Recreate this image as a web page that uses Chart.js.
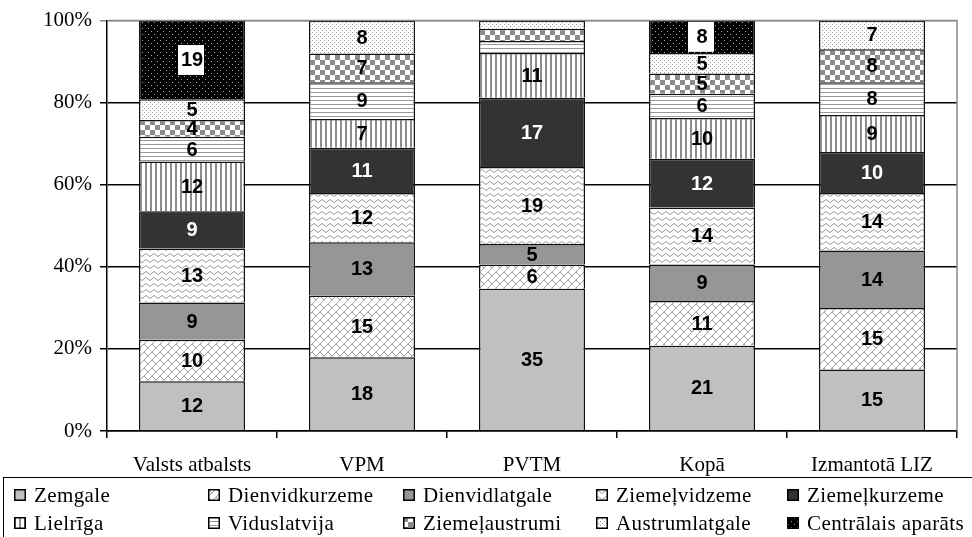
<!DOCTYPE html>
<html>
<head>
<meta charset="utf-8">
<script src="https://cdn.jsdelivr.net/npm/chart.js@4.4.1/dist/chart.umd.min.js"></script>
<style>
    body { margin: 0; background: #fff; overflow: hidden; }
    #wrap { position: relative; width: 972px; height: 537px; overflow: hidden; }
    #legend { position: absolute; left: 3px; top: 477px; width: 1000px; height: 80px; border: 1.5px solid #000; box-sizing: border-box; }
    .item { position: absolute; white-space: nowrap; font: 21px "Liberation Serif", "Times New Roman", serif; line-height: 22px; letter-spacing: 0.4px; }
    .item canvas { position: absolute; left: 0; top: 5px; }
    .item span { position: absolute; left: 20px; top: 0; }
</style>
</head>
<body>
<div id="wrap">
    <canvas id="chart" width="972" height="478"></canvas>
    <div id="legend"></div>
</div>
<script>
const categories = ['Valsts atbalsts', 'VPM', 'PVTM', 'Kopā', 'Izmantotā LIZ'];
const seriesNames = ['Zemgale', 'Dienvidkurzeme', 'Dienvidlatgale', 'Ziemeļvidzeme', 'Ziemeļkurzeme',
    'Lielrīga', 'Viduslatvija', 'Ziemeļaustrumi', 'Austrumlatgale', 'Centrālais aparāts'];

const zemgale = [12, 18, 35, 21, 15];
const dienvidkurzeme = [10, 15, 6, 11, 15];
const dienvidlatgale = [9, 13, 5, 9, 14];
const ziemelvidzeme = [13, 12, 19, 14, 14];
const ziemelkurzeme = [9, 11, 17, 12, 10];
const lielriga = [12, 7, 11, 10, 9];
const viduslatvija = [6, 9, 3, 6, 8];
const ziemelaustrumi = [4, 7, 3, 5, 8];
const austrumlatgale = [5, 8, 2, 5, 7];
const centralais = [19, 0, 0, 8, 0];

const yTicks = [0, 20, 40, 60, 80, 100];

const seriesValues = [zemgale, dienvidkurzeme, dienvidlatgale, ziemelvidzeme, ziemelkurzeme,
    lielriga, viduslatvija, ziemelaustrumi, austrumlatgale, centralais];

// small tiles for the hatch fills
function tile(w, h, draw) {
    const c = document.createElement('canvas');
    c.width = w;
    c.height = h;
    const g = c.getContext('2d');
    draw(g);
    return g.createPattern(c, 'repeat');
}

const fills = [
    '#c0c0c0',
    tile(8, 8, g => {
        g.fillStyle = '#fff'; g.fillRect(0, 0, 8, 8);
        g.strokeStyle = '#9a9a9a'; g.lineWidth = 1;
        g.beginPath();
        g.moveTo(0, 8); g.lineTo(8, 0);
        g.moveTo(0, 0); g.lineTo(4, 4);
        g.stroke();
    }),
    '#969696',
    tile(8, 6, g => {
        g.fillStyle = '#fff'; g.fillRect(0, 0, 8, 6);
        g.strokeStyle = '#9a9a9a'; g.lineWidth = 1;
        g.beginPath();
        g.moveTo(0, 3);
        g.quadraticCurveTo(2, 0, 4, 3);
        g.quadraticCurveTo(6, 6, 8, 3);
        g.stroke();
    }),
    '#333333',
    tile(5, 1, g => {
        g.fillStyle = '#fff'; g.fillRect(0, 0, 5, 1);
        g.fillStyle = '#8c8c8c'; g.fillRect(0, 0, 2, 1);
    }),
    tile(1, 4, g => {
        g.fillStyle = '#fff'; g.fillRect(0, 0, 1, 4);
        g.fillStyle = '#999'; g.fillRect(0, 0, 1, 1);
    }),
    tile(10, 10, g => {
        g.fillStyle = '#fff'; g.fillRect(0, 0, 10, 10);
        g.fillStyle = '#8c8c8c'; g.fillRect(0, 0, 5, 5); g.fillRect(5, 5, 5, 5);
    }),
    tile(4, 4, g => {
        g.fillStyle = '#fff'; g.fillRect(0, 0, 4, 4);
        g.fillStyle = '#999'; g.fillRect(0, 0, 1, 1); g.fillRect(2, 2, 1, 1);
    }),
    tile(6, 6, g => {
        g.fillStyle = '#000'; g.fillRect(0, 0, 6, 6);
        g.fillStyle = '#aaa'; g.fillRect(1, 1, 1, 1); g.fillRect(4, 4, 1, 1);
    })
];

// each column is shown as a share of its own total
const totals = categories.map((c, j) => seriesValues.reduce((s, arr) => s + arr[j], 0));

const datasets = seriesNames.map((name, i) => ({
    label: name,
    raw: seriesValues[i],
    data: seriesValues[i].map((v, j) => v / totals[j] * 100),
    backgroundColor: fills[i],
    borderColor: '#111',
    borderWidth: 1.5,
    categoryPercentage: 0.624,
    barPercentage: 1
}));

const segLabels = {
    id: 'segLabels',
    afterDatasetsDraw(chart) {
        const ctx = chart.ctx;
        ctx.save();
        ctx.font = 'bold 20px "Liberation Sans", Arial, sans-serif';
        ctx.textAlign = 'center';
        ctx.textBaseline = 'middle';
        chart.data.datasets.forEach((ds, i) => {
            const meta = chart.getDatasetMeta(i);
            meta.data.forEach((bar, j) => {
                const v = ds.raw[j];
                if (v < 4) return;
                const cy = (bar.y + bar.base) / 2;
                if (i === 9) {
                    ctx.fillStyle = '#fff';
                    ctx.fillRect(bar.x - 14, cy - 15, 26, 30);
                }
                ctx.fillStyle = i === 4 ? '#fff' : '#000';
                ctx.fillText(String(v), bar.x, cy + 1);
            });
        });
        ctx.restore();
    }
};

const plotBorder = {
    id: 'plotBorder',
    afterDraw(chart) {
        const a = chart.chartArea;
        const ctx = chart.ctx;
        ctx.save();
        ctx.strokeStyle = '#888';
        ctx.lineWidth = 1.5;
        ctx.beginPath();
        ctx.moveTo(a.left, a.top);
        ctx.lineTo(a.right, a.top);
        ctx.lineTo(a.right, a.bottom);
        ctx.stroke();
        ctx.restore();
    }
};

const serif = '"Liberation Serif", "Times New Roman", serif';

new Chart(document.getElementById('chart'), {
    type: 'bar',
    data: { labels: categories, datasets: datasets },
    options: {
        responsive: false,
        animation: false,
        layout: { padding: { top: 18.5, right: 15, left: 0, bottom: 0 } },
        plugins: {
            legend: { display: false },
            tooltip: { enabled: false }
        },
        scales: {
            x: {
                stacked: true,
                afterFit: s => { s.height = 47; },
                grid: { offset: true, drawOnChartArea: false, color: '#000', lineWidth: 1.5, tickLength: 7 },
                border: { color: '#000', width: 1.5 },
                ticks: { color: '#000', padding: 15, maxRotation: 0, font: { family: serif, size: 21 } }
            },
            y: {
                stacked: true,
                min: 0,
                max: 100,
                afterFit: s => { s.width = 107; },
                afterBuildTicks: s => { s.ticks = yTicks.map(v => ({ value: v })); },
                grid: {
                    color: c => c.tick && c.tick.value === 100 ? '#888' : '#000',
                    lineWidth: 1.5,
                    tickLength: 7
                },
                border: { color: '#000', width: 1.5 },
                ticks: {
                    color: '#000',
                    padding: 8,
                    font: { family: serif, size: 21 },
                    callback: v => v + '%'
                }
            }
        }
    },
    plugins: [segLabels, plotBorder]
});

// legend in the framed box underneath
const legendCols = [14, 208, 403, 596, 787];
const legendRows = [484, 512];
const wrap = document.getElementById('wrap');
seriesNames.forEach((name, i) => {
    const item = document.createElement('div');
    item.className = 'item';
    item.style.left = legendCols[i % 5] + 'px';
    item.style.top = legendRows[Math.floor(i / 5)] + 'px';
    const sw = document.createElement('canvas');
    sw.width = 12;
    sw.height = 12;
    const g = sw.getContext('2d');
    g.fillStyle = fills[i];
    g.fillRect(0, 0, 12, 12);
    g.strokeStyle = '#000';
    g.lineWidth = 1.5;
    g.strokeRect(0.75, 0.75, 10.5, 10.5);
    const label = document.createElement('span');
    label.textContent = name;
    item.appendChild(sw);
    item.appendChild(label);
    wrap.appendChild(item);
});
</script>
</body>
</html>
